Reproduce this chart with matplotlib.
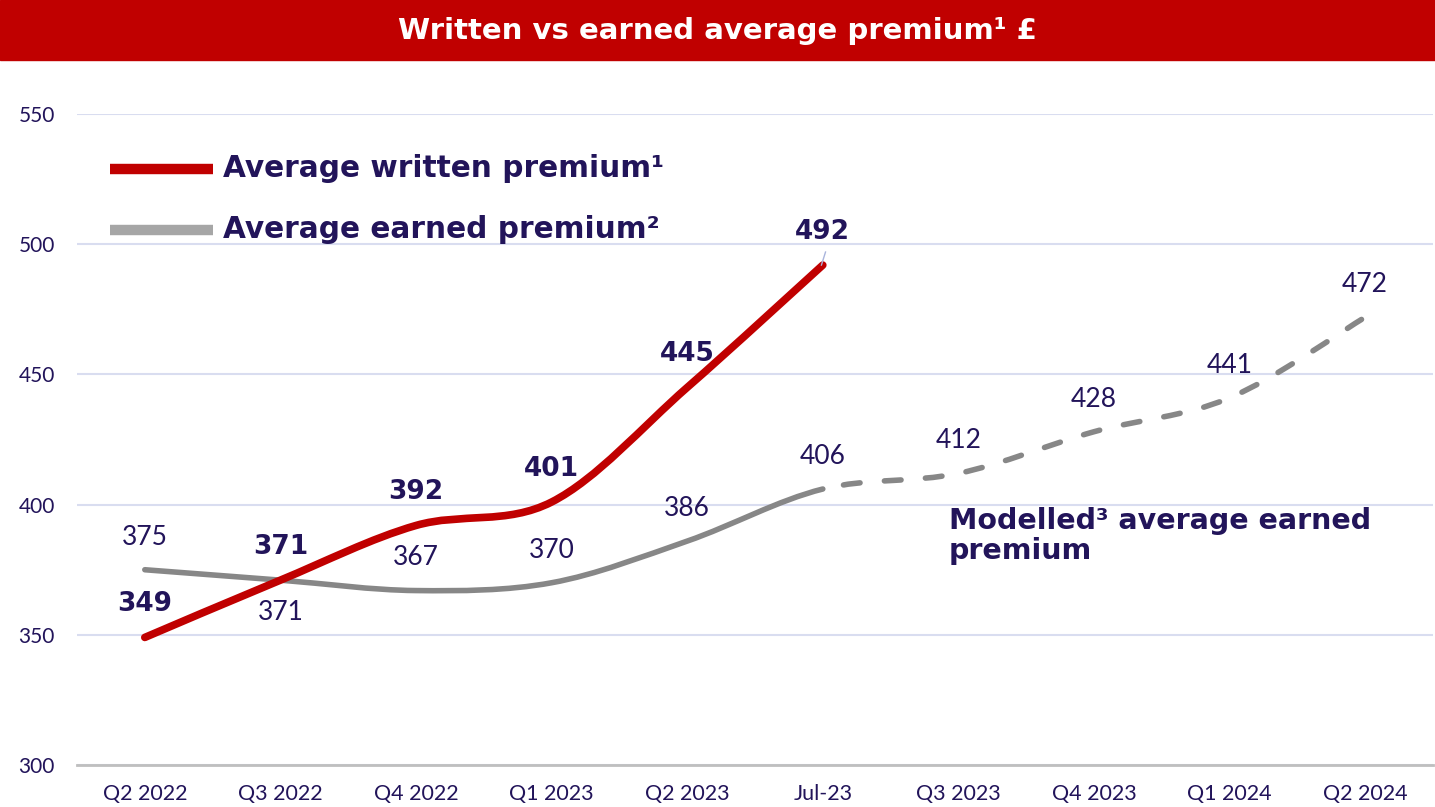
import numpy as np
import matplotlib.pyplot as plt
from matplotlib.path import Path
from matplotlib.patches import PathPatch, Rectangle

plt.rcParams['font.family'] = ['Lato', 'DejaVu Sans']
BOLD = ['DejaVu Sans']

categories = ['Q2 2022', 'Q3 2022', 'Q4 2022', 'Q1 2023', 'Q2 2023', 'Jul-23',
              'Q3 2023', 'Q4 2023', 'Q1 2024', 'Q2 2024']
written = [349, 371, 392, 401, 445, 492]
earned = [375, 371, 367, 370, 386, 406, 412, 428, 441, 472]
n_actual = 6  # earned is actual up to Jul-23, modelled after

navy = '#22145a'
red = '#c00000'
grey = '#878787'


def smooth_path(xs, ys, start, stop):
    # Bezier segments through the points (Excel-style smoothed line)
    pts = np.column_stack([xs, ys]).astype(float)
    n = len(pts)
    verts = [pts[start]]
    codes = [Path.MOVETO]
    for i in range(start, stop):
        p0 = pts[max(i - 1, 0)]
        p1 = pts[i]
        p2 = pts[i + 1]
        p3 = pts[min(i + 2, n - 1)]
        c1 = p1 + (p2 - p0) / 6
        c2 = p2 - (p3 - p1) / 6
        verts += [c1, c2, p2]
        codes += [Path.CURVE4] * 3
    return Path(verts, codes)


fig = plt.figure(figsize=(14.35, 8.07), dpi=100)

# title bar
fig.patches.append(Rectangle((0, 1 - 60 / 807), 1, 60 / 807, transform=fig.transFigure,
                             color=red, zorder=0))
fig.text(0.5, 1 - 31 / 807, 'Written vs earned average premium¹ £', color='white',
         fontsize=21, fontweight='bold', family=BOLD, ha='center', va='center')

ax = fig.add_axes([77 / 1435, 0.052, 1356 / 1435, 0.8067])
x = np.arange(len(categories))
ax.set_xlim(-0.5, 9.5)
ax.set_ylim(300, 550)

for s in ['top', 'right', 'left']:
    ax.spines[s].set_visible(False)
ax.spines['bottom'].set_color('#bfbfbf')
ax.spines['bottom'].set_linewidth(2)
ax.set_yticks([300, 350, 400, 450, 500, 550])
ax.yaxis.grid(True, color='#d9ddf0', linewidth=1.5)
ax.set_axisbelow(True)
ax.tick_params(axis='both', length=0, colors=navy)
ax.tick_params(axis='x', pad=14, labelsize=15.5)
ax.tick_params(axis='y', pad=16, labelsize=15)
ax.set_xticks(x)
ax.set_xticklabels(categories)

# written premium
xw = x[:len(written)]
ax.add_patch(PathPatch(smooth_path(xw, written, 0, len(written) - 1), fill=False,
                       edgecolor=red, linewidth=5.5, capstyle='round', zorder=4))
# earned premium: solid then dashed (modelled)
ax.add_patch(PathPatch(smooth_path(x, earned, 0, n_actual - 1), fill=False,
                       edgecolor=grey, linewidth=4, capstyle='round', zorder=3))
ax.add_patch(PathPatch(smooth_path(x, earned, n_actual - 1, len(earned) - 1), fill=False,
                       edgecolor=grey, linewidth=4, linestyle=(11, (3, 4.4)),
                       capstyle='round', zorder=3))

# data labels
for i, v in enumerate(written):
    ax.annotate(str(v), (xw[i], v), xytext=(0, 14.5), textcoords='offset points',
                ha='center', va='bottom', fontsize=19, fontweight='bold', family=BOLD,
                color=navy)
ax.plot([xw[-1] - 0.01, xw[-1] + 0.02], [492, 497], color='#a9b4dc', lw=1, zorder=5)
for i, v in enumerate(earned):
    dy = -14 if i == 1 else 14.5
    ax.annotate(str(v), (x[i], v), xytext=(0, dy), textcoords='offset points',
                ha='center', va='top' if dy < 0 else 'bottom', fontsize=19,
                color=navy)

# legend
ax.plot([-0.255, 0.505], [529, 529], color=red, lw=7.5, solid_capstyle='butt')
ax.plot([-0.255, 0.505], [505.5, 505.5], color='#a6a6a6', lw=7.5, solid_capstyle='butt')
ax.text(0.58, 529, 'Average written premium¹', fontsize=21.3, fontweight='bold',
        family=BOLD, color=navy, va='center')
ax.text(0.58, 505.5, 'Average earned premium²', fontsize=21.3, fontweight='bold',
        family=BOLD, color=navy, va='center')

ax.text(5.93, 388, 'Modelled³ average earned\npremium', fontsize=20.5, fontweight='bold',
        family=BOLD, color=navy, va='center', linespacing=1.1)

fig.savefig('out.png', dpi=100)
